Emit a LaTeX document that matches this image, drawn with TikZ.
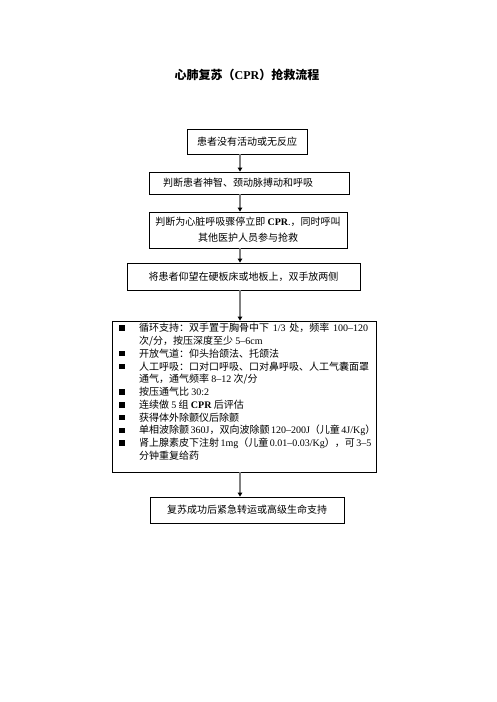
\documentclass[tikz,border=0pt]{standalone}
\usepackage{fontspec}
\setmainfont{Liberation Serif}
\newfontfamily\cjk{Noto Sans CJK SC}
\usetikzlibrary{arrows.meta,shadows}
\XeTeXlinebreaklocale "zh"
\XeTeXlinebreakskip=0pt plus 1pt
\newcommand\lt[1]{{\rmfamily #1}}
\begin{document}
\begin{tikzpicture}[x=1pt,y=-1pt,
  boxs/.style={draw, line width=0.8pt, fill=white, inner sep=0pt,
    drop shadow={shadow xshift=1pt, shadow yshift=-1pt, fill=black, opacity=1},
    font=\cjk\fontsize{10}{16}\selectfont, align=center},
  arr/.style={draw=black!50, line width=1.5pt, -{Triangle[length=4pt,width=4.5pt,color=black]}},
  bul/.style={fill=black, minimum size=5.5pt, inner sep=0pt},
  ln/.style={anchor=west, inner sep=0pt, font=\cjk\fontsize{10}{12}\selectfont}]
\path[use as bounding box] (0,0) rectangle (496,702);
\node[font=\cjk\bfseries\fontsize{12}{14}\selectfont] (title) at (247,75) {心肺复苏（\lt{\textbf{CPR}}）抢救流程};

\node[boxs, minimum width=120pt, minimum height=25pt] (b1) at (247,141.5) {患者没有活动或无反应};
\node[boxs, minimum width=200pt, minimum height=22pt] (b2) at (249,183) {\makebox[172pt][s]{判断患者神智、颈动脉搏动和呼吸}};
\node[boxs, minimum width=198pt, minimum height=36pt] (b3) at (248,230) {判断为心脏呼吸骤停立即 \lt{\textbf{CPR}.}，同时呼叫\\其他医护人员参与抢救};
\node[boxs, minimum width=233pt, minimum height=27pt] (b4) at (243.5,276.5) {将患者仰望在硬板床或地板上，双手放两侧};
\node[boxs, minimum width=264pt, minimum height=151pt] (b5) at (244,396.5) {};
\node[boxs, minimum width=194pt, minimum height=26pt] (b6) at (247,510) {复苏成功后紧急转运或高级生命支持};

\coordinate (ax) at (240,0);
\draw[arr] (b1.south -| ax) -- (b2.north -| ax);
\draw[arr] (b2.south -| ax) -- (b3.north -| ax);
\draw[arr] (b3.south -| ax) -- (b4.north -| ax);
\draw[arr] (b4.south -| ax) -- (b5.north -| ax);
\draw[arr] (b5.south -| ax) -- (b6.north -| ax);

% bullet list
\node[bul] (p1) at (122,328) {};
\node[bul] (p3) at (122,353.6) {};
\node[bul] (p4) at (122,366.4) {};
\node[bul] (p6) at (122,392) {};
\node[bul] (p7) at (122,404.8) {};
\node[bul] (p8) at (122,417.6) {};
\node[bul] (p9) at (122,430.4) {};
\node[bul] (p10) at (122,443.2) {};

\node[ln] (l1) at (139,328) {\makebox[229pt][s]{循环支持：双手置于胸骨中下 \lt{1/3} 处，频率 \lt{100–120}}};
\node[ln] (l2) at (139,340.8) {次/分，按压深度至少 \lt{5–6cm}};
\node[ln] (l3) at (139,353.6) {开放气道：仰头抬颌法、托颌法};
\node[ln] (l4) at (139,366.4) {\makebox[229pt][s]{人工呼吸：口对口呼吸、口对鼻呼吸、人工气囊面罩}};
\node[ln] (l5) at (139,379.2) {通气，通气频率 \lt{8–12} 次/分};
\node[ln] (l6) at (139,392) {按压通气比 \lt{30:2}};
\node[ln] (l7) at (139,404.8) {连续做 \lt{5} 组 \lt{\textbf{CPR}} 后评估};
\node[ln] (l8) at (139,417.6) {获得体外除颤仪后除颤};
\node[ln] (l9) at (139,430.4) {\makebox[229pt][s]{单相波除颤 \lt{360J}，双向波除颤 \lt{120–200J}（儿童 \lt{4J/Kg}）}};
\node[ln] (l10) at (139,443.2) {\makebox[229pt][s]{肾上腺素皮下注射 \lt{1mg}（儿童 \lt{0.01–0.03/Kg}），可 \lt{3–5}}};
\node[ln] (l11) at (139,456) {分钟重复给药};
\end{tikzpicture}
\end{document}
